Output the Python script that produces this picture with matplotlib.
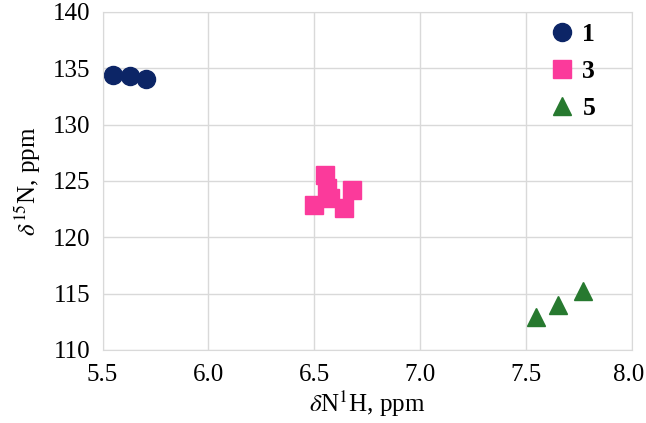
import matplotlib
matplotlib.use("Agg")
import matplotlib.pyplot as plt
import matplotlib.transforms as mtransforms

plt.rcParams['font.family'] = ['Liberation Serif', 'DejaVu Serif']
plt.rcParams['mathtext.fontset'] = 'stix'

# compound 1
h1 = [5.55, 5.63, 5.705]
n1 = [134.4, 134.3, 134.05]
# compound 3
h3 = [6.55, 6.50, 6.64, 6.678, 6.574, 6.56]
n3 = [125.5, 122.9, 122.6, 124.2, 123.5, 124.4]
# compound 5
h5 = [7.547, 7.65, 7.77]
n5 = [112.9, 114.0, 115.2]

xticks = [5.5, 6.0, 6.5, 7.0, 7.5, 8.0]
xticklabels = ['5.5', '6.0', '6.5', '7.0', '7.5', '8.0']

fig = plt.figure(figsize=(6.46, 4.23), dpi=100)
ax = fig.add_axes([102.5 / 646, 73 / 423, 529.5 / 646, 338 / 423])

ax.plot(h1, n1, 'o', color='#0c2566', markersize=13, label='1', clip_on=False)
ax.plot(h3, n3, 's', color='#fb3a9b', markersize=12.5, label='3', clip_on=False)
ax.plot(h5, n5, '^', color='#27792f', markersize=12.5, label='5', clip_on=False)

ax.set_xlim(5.5, 8.0)
ax.set_ylim(110, 140)
ax.set_xticks(xticks)
ax.set_xticklabels(xticklabels)
ax.set_yticks(range(110, 141, 5))
ax.grid(True, color='#d9d9d9', linewidth=1)
ax.set_axisbelow(True)
for s in ax.spines.values():
    s.set_color('#d9d9d9')
ax.tick_params(length=0, labelsize=18)
ax.tick_params(axis='x', pad=10)
ax.tick_params(axis='y', pad=9)

# nudge the last x label so it stays inside the canvas
last = ax.get_xticklabels()[-1]
last.set_transform(last.get_transform() +
                   mtransforms.ScaledTranslation(-3 / 100, 0, fig.dpi_scale_trans))

ax.set_xlabel(r'$\delta$N$^{1}$H, ppm', fontsize=18, labelpad=2)
ax.set_ylabel(r'$\delta^{15}$N, ppm', fontsize=18, labelpad=7)

leg = ax.legend(loc='upper right', bbox_to_anchor=(0.951, 1.0), frameon=False,
                fontsize=18.5, labelspacing=0.55, handlelength=1.0,
                handletextpad=0.3, borderpad=0.42, borderaxespad=0.0, numpoints=1)
for t in leg.get_texts():
    t.set_fontweight('bold')

fig.savefig('out.png', dpi=100)
